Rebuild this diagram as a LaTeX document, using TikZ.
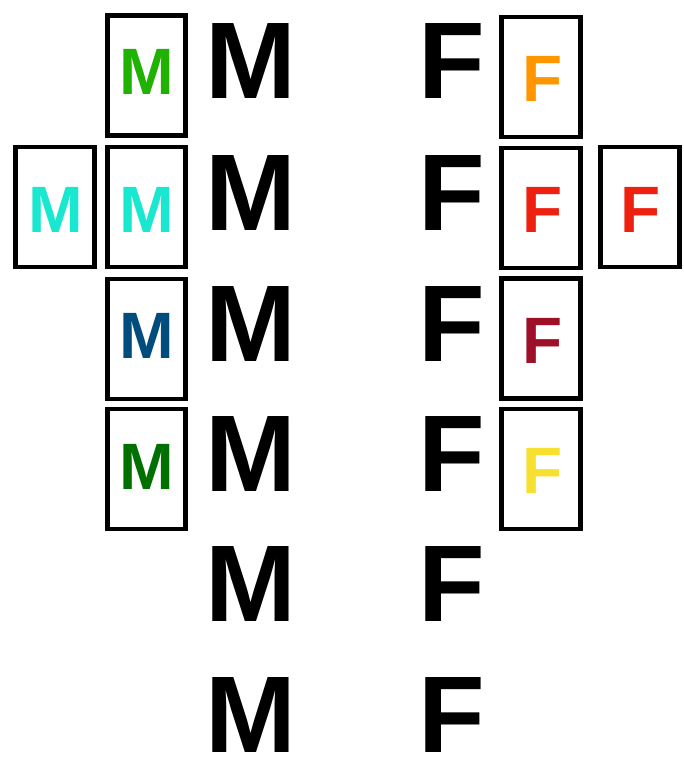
\documentclass[tikz,border=0pt]{standalone}
\usepackage{fontspec}
\setmainfont{Liberation Sans}
\definecolor{cgreen}{RGB}{31,178,0}
\definecolor{ccyan}{RGB}{24,232,208}
\definecolor{cblue}{RGB}{0,76,124}
\definecolor{cdgreen}{RGB}{0,112,0}
\definecolor{corange}{RGB}{255,150,0}
\definecolor{cred}{RGB}{238,32,16}
\definecolor{ccrimson}{RGB}{158,16,40}
\definecolor{cyellow}{RGB}{248,224,48}
\tikzset{
  x=1pt, y=-1pt,
  card/.style={draw=black, line width=4.6pt, minimum width=78.5pt, minimum height=120pt, inner sep=0pt},
  small/.style={anchor=base, inner sep=0pt, font=\fontsize{65.6}{70}\selectfont\bfseries},
  big/.style={anchor=base, inner sep=0pt, font=\fontsize{109}{115}\selectfont\bfseries}
}
\begin{document}
\begin{tikzpicture}
\useasboundingbox (0,0) rectangle (684,759);
% big letters
\foreach \i/\y in {1/99,2/230,3/361,4/491,5/621,6/752}{
  \node[big] (bm\i) at (251,\y) {M};
  \node[big] (bf\i) at (452,\y) {F};
}
% M cards
\node[card] (m1) at (146.5,75.5) {};
\node[card] (m2) at (146.5,207) {};
\node[card] (m2l) at (55,207) {};
\node[card] (m3) at (146.5,339) {};
\node[card] (m4) at (146.5,469) {};
\node[small, text=cgreen] (tm1) at (146.5,95) {M};
\node[small, text=ccyan] (tm2) at (146.5,232) {M};
\node[small, text=ccyan] (tm2l) at (55.5,232) {M};
\node[small, text=cblue] (tm3) at (146.5,358) {M};
\node[small, text=cdgreen] (tm4) at (146.5,489) {M};
% F cards
\node[card] (f1) at (541,77) {};
\node[card] (f2) at (541,208) {};
\node[card] (f2r) at (640,207) {};
\node[card] (f3) at (541,338.5) {};
\node[card] (f4) at (541,469) {};
\node[small, text=corange] (tf1) at (542.5,102) {F};
\node[small, text=cred] (tf2) at (542.5,232) {F};
\node[small, text=cred] (tf2r) at (640.5,232) {F};
\node[small, text=ccrimson] (tf3) at (542.5,363) {F};
\node[small, text=cyellow] (tf4) at (542.5,493) {F};
\end{tikzpicture}
\end{document}
